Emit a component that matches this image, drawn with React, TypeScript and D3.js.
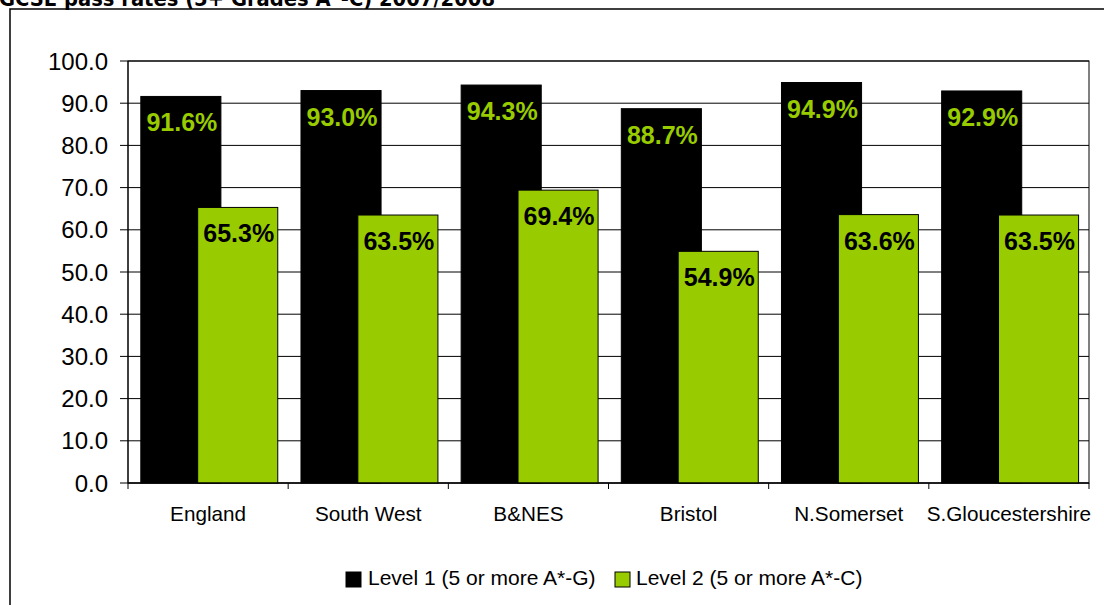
import * as d3 from "d3";

const title = "GCSE pass rates (5+ Grades A*-C) 2007/2008";
const categories = ["England", "South West", "B&NES", "Bristol", "N.Somerset", "S.Gloucestershire"];
const level1 = [91.6, 93.0, 94.3, 88.7, 94.9, 92.9];
const level2 = [65.3, 63.5, 69.4, 54.9, 63.6, 63.5];
const seriesNames = ["Level 1 (5 or more A*-G)", "Level 2 (5 or more A*-C)"];
const yTicks = [0, 10, 20, 30, 40, 50, 60, 70, 80, 90, 100];

const width = 1104;
const height = 605;
const plot = { left: 128, right: 1089, top: 61, bottom: 483 };
const green = "#99cc00";
const font = "'Liberation Sans', Arial, sans-serif";

export default function App() {
  const x = d3.scaleBand<string>().domain(categories).range([plot.left, plot.right]);
  const y = d3.scaleLinear().domain([0, 100]).range([plot.bottom, plot.top]);
  const bw = x.bandwidth();
  const barW = bw * 0.5;
  const series = [
    { values: level1, fill: "#000000", labelColor: green, offset: bw * 0.08 },
    { values: level2, fill: green, labelColor: "#000000", offset: bw * 0.435 },
  ];

  return (
    <svg
      width={width}
      height={height}
      style={{ position: "absolute", left: 0, top: 0, background: "#fff" }}
      fontFamily={font}
    >
      <rect x={0} y={0} width={width} height={height} fill="#fff" />
      <text
        x={-1}
        y={6}
        fontFamily="'DejaVu Sans', Verdana, sans-serif"
        fontWeight="bold"
        fontSize={21}
        textLength={496}
        lengthAdjust="spacingAndGlyphs"
      >
        {title}
      </text>
      <rect x={10} y={9} width={1200} height={700} fill="none" stroke="#000" strokeWidth={1.5} />

      {/* plot area + grid */}
      <rect
        x={plot.left}
        y={plot.top}
        width={plot.right - plot.left}
        height={plot.bottom - plot.top}
        fill="#fff"
        stroke="#000"
        strokeWidth={1}
      />
      {yTicks.map((t) => (
        <g key={t}>
          <line x1={plot.left} x2={plot.right} y1={y(t)} y2={y(t)} stroke="#000" strokeWidth={1} />
          <line x1={plot.left - 8} x2={plot.left} y1={y(t)} y2={y(t)} stroke="#000" strokeWidth={1} />
          <text x={108} y={y(t)} dy="0.36em" textAnchor="end" fontSize={24}>
            {t.toFixed(1)}
          </text>
        </g>
      ))}

      {series.map((s, si) =>
        categories.map((c, i) => {
          const bx = (x(c) ?? 0) + s.offset;
          const top = y(s.values[i]);
          return (
            <g key={`${si}-${c}`}>
              <rect
                x={bx}
                y={top}
                width={barW}
                height={plot.bottom - top}
                fill={s.fill}
                stroke="#000"
                strokeWidth={1}
              />
            </g>
          );
        })
      )}
      {series.map((s, si) =>
        categories.map((c, i) => {
          const bx = (x(c) ?? 0) + s.offset;
          const top = y(s.values[i]);
          return (
            <text
              key={`l${si}-${c}`}
              x={bx + barW / 2 + 1}
              y={top + 35}
              textAnchor="middle"
              fontSize={25}
              fontWeight="bold"
              fill={s.labelColor}
            >
              {s.values[i].toFixed(1)}%
            </text>
          );
        })
      )}

      {/* x axis */}
      <line x1={plot.left} x2={plot.right} y1={plot.bottom} y2={plot.bottom} stroke="#000" strokeWidth={1} />
      <line x1={plot.left} x2={plot.left} y1={plot.top} y2={plot.bottom} stroke="#000" strokeWidth={1} />
      {categories.map((c, i) => (
        <g key={c}>
          <line
            x1={(x(c) ?? 0) + (i === 0 ? 0 : 0)}
            x2={x(c) ?? 0}
            y1={plot.bottom}
            y2={plot.bottom + 6}
            stroke="#000"
          />
          <text x={(x(c) ?? 0) + bw / 2} y={521} textAnchor="middle" fontSize={20.7}>
            {c}
          </text>
        </g>
      ))}
      <line x1={plot.right} x2={plot.right} y1={plot.bottom} y2={plot.bottom + 6} stroke="#000" />

      {/* legend */}
      <rect x={346} y={572} width={15} height={15} fill="#000" stroke="#000" />
      <text x={368} y={585} fontSize={21}>
        {seriesNames[0]}
      </text>
      <rect x={615} y={572} width={15} height={15} fill={green} stroke="#000" />
      <text x={636} y={585} fontSize={21}>
        {seriesNames[1]}
      </text>
    </svg>
  );
}
